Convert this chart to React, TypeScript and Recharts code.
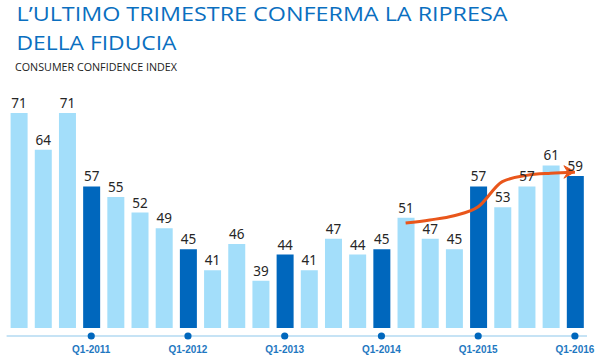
import {
  Bar,
  Cell,
  ComposedChart,
  LabelList,
  Line,
  XAxis,
  YAxis,
} from 'recharts'

const quarters = [
  'Q2-2010', 'Q3-2010', 'Q4-2010', 'Q1-2011',
  'Q2-2011', 'Q3-2011', 'Q4-2011', 'Q1-2012',
  'Q2-2012', 'Q3-2012', 'Q4-2012', 'Q1-2013',
  'Q2-2013', 'Q3-2013', 'Q4-2013', 'Q1-2014',
  'Q2-2014', 'Q3-2014', 'Q4-2014', 'Q1-2015',
  'Q2-2015', 'Q3-2015', 'Q4-2015', 'Q1-2016',
]

const confidence = [
  71, 64, 71, 57, 55, 52, 49, 45, 41, 46, 39, 44,
  41, 47, 44, 45, 51, 47, 45, 57, 53, 57, 61, 59,
]

// orange "recovery" arrow (null = not drawn)
const trendArrow: (number | null)[] = [
  null, null, null, null, null, null, null, null,
  null, null, null, null, null, null, null, null,
  50, 50.6, 51.4, 53.1, 57.9, 59.1, 59.5, 59.7,
]

const BAR_BASE = 30
const Y_DOMAIN: [number, number] = [28.47, 75]

const LIGHT = '#a3defa'
const DARK = '#0067bd'
const BLUE_TEXT = '#1f78c1'
const ORANGE = '#e9561b'

const data = quarters.map((q, i) => ({
  quarter: q,
  value: confidence[i],
  range: [BAR_BASE, confidence[i]] as [number, number],
  arrow: trendArrow[i],
}))

const isQ1 = (q: string) => q.startsWith('Q1')

function QuarterTick(props: any) {
  const { x, y, payload } = props
  if (!isQ1(payload.value)) return null
  return (
    <g>
      <circle cx={x} cy={y} r={3.6} fill={DARK} />
      <text
        x={x}
        y={y + 17}
        textAnchor="middle"
        fill={BLUE_TEXT}
        fontSize={10}
        fontWeight="bold"
        fontFamily="'Liberation Sans', Arial, sans-serif"
      >
        {payload.value}
      </text>
    </g>
  )
}

function ArrowHead(props: any) {
  const { cx, cy, index } = props
  if (index !== quarters.length - 1 || cx == null || cy == null) return null
  return (
    <polygon
      key="arrow-head"
      points={`${cx},${cy - 0.5} ${cx - 11},${cy - 6.5} ${cx - 7},${cy} ${cx - 11},${cy + 6}`}
      fill={ORANGE}
      stroke={ORANGE}
      strokeWidth={1}
      strokeLinejoin="round"
    />
  )
}

export default function App() {
  return (
    <div
      style={{
        position: 'absolute',
        left: 0,
        top: 0,
        width: 600,
        height: 360,
        background: '#fff',
      }}
    >
      <ComposedChart
        width={600}
        height={360}
        data={data}
        margin={{ top: 92, right: 13, left: 6.6, bottom: 0 }}
      >
        <YAxis hide domain={Y_DOMAIN} allowDataOverflow />
        <XAxis
          dataKey="quarter"
          interval={0}
          height={24}
          tickLine={false}
          tickSize={0}
          tickMargin={0}
          axisLine={{ stroke: '#8ec8ec', strokeWidth: 1.2 }}
          tick={<QuarterTick />}
        />
        <Bar dataKey="range" barSize={17} isAnimationActive={false}>
          {data.map((d, i) => (
            <Cell key={`bar-${i}`} fill={isQ1(d.quarter) ? DARK : LIGHT} />
          ))}
          <LabelList
            dataKey="value"
            position="top"
            offset={5}
            fill="#262626"
            fontSize={13.5}
            fontFamily="'Noto Sans', sans-serif"
          />
        </Bar>
        <Line
          dataKey="arrow"
          type="monotone"
          stroke={ORANGE}
          strokeWidth={3}
          dot={<ArrowHead />}
          activeDot={false}
          isAnimationActive={false}
        />
      </ComposedChart>
      <svg
        width={600}
        height={90}
        style={{ position: 'absolute', left: 0, top: 0, pointerEvents: 'none' }}
      >
        <text
          x={16.5}
          y={20.7}
          fill="#0a6fc0"
          fontSize={20.5}
          fontFamily="'Open Sans', sans-serif"
          textLength={491}
          lengthAdjust="spacingAndGlyphs"
        >
          L’ULTIMO TRIMESTRE CONFERMA LA RIPRESA
        </text>
        <text
          x={16.5}
          y={50}
          fill="#0a6fc0"
          fontSize={20.5}
          fontFamily="'Open Sans', sans-serif"
          textLength={160}
          lengthAdjust="spacingAndGlyphs"
        >
          DELLA FIDUCIA
        </text>
        <text
          x={15}
          y={70.7}
          fill="#222"
          fontSize={10.3}
          fontFamily="'Open Sans', sans-serif"
          textLength={162}
          lengthAdjust="spacingAndGlyphs"
        >
          CONSUMER CONFIDENCE INDEX
        </text>
      </svg>
    </div>
  )
}
